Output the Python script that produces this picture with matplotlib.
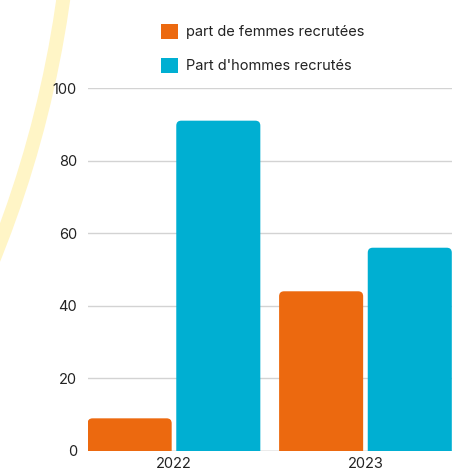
import matplotlib
matplotlib.use("Agg")
import matplotlib.pyplot as plt
from matplotlib.patches import FancyBboxPatch, Rectangle, Circle
import numpy as np

years = ["2022", "2023"]
series_names = ["part de femmes recrutées", "Part d'hommes recrutés"]
femmes = [9, 44]
hommes = [91, 56]
yticks = [0, 20, 40, 60, 80, 100]

c_orange = "#EC690F"
c_blue = "#00AFD2"
text_col = "#222222"

plt.rcParams['font.family'] = ['Inter', 'DejaVu Sans']

W, H = 461, 472
fig = plt.figure(figsize=(W / 100, H / 100), dpi=100)

# decorative background arc (in pixel coordinates)
bg = fig.add_axes([0, 0, 1, 1], zorder=0)
bg.set_xlim(0, W)
bg.set_ylim(H, 0)
bg.axis("off")
arc = Circle((-1028, -154), 1102, fill=False, edgecolor="#FFF5C6", linewidth=10)
bg.add_patch(arc)

# main axes
L, R, T, B = 88, 452, 88, 451
ax = fig.add_axes([L / W, 1 - B / H, (R - L) / W, (B - T) / H], zorder=1)
ax.patch.set_alpha(0)
xlim = (-0.449, 1.452)
ylim = (0, 100)
ax.set_xlim(*xlim)
ax.set_ylim(*ylim)

x = np.arange(len(years))
bw = 0.439
off = 0.2315
bars1 = ax.bar(x - off, femmes, bw, color=c_orange)
bars2 = ax.bar(x + off, hommes, bw, color=c_blue)

px_x = (R - L) / (xlim[1] - xlim[0])
px_y = (B - T) / (ylim[1] - ylim[0])
asp = px_x / px_y
r = 5 / px_x
for bars in (bars1, bars2):
    for rect in bars:
        bx, by = rect.get_x(), rect.get_y()
        bwid, bh = rect.get_width(), rect.get_height()
        fc = rect.get_facecolor()
        rect.set_visible(False)
        ext = 3
        p = FancyBboxPatch((bx, by - ext), bwid, bh + ext,
                           boxstyle=f"round,pad=0,rounding_size={r}",
                           mutation_aspect=asp, facecolor=fc, edgecolor="none",
                           zorder=3)
        ax.add_patch(p)

for v in yticks[1:]:
    ax.axhline(v, color="#D3D3D3", lw=1.0, zorder=1)
ax.axhline(0, color="#9A9A9A", lw=1.0, zorder=1)

for s in ax.spines.values():
    s.set_visible(False)
ax.set_yticks(yticks)
ax.set_yticklabels([str(v) for v in yticks])
ax.set_xticks(x)
ax.set_xticklabels(years)
ax.tick_params(axis="y", length=0, pad=8, labelsize=10.5, labelcolor=text_col)
ax.tick_params(axis="x", length=0, pad=4, labelsize=10.5, labelcolor=text_col)

handles = [Rectangle((0, 0), 1, 1, facecolor=c_orange, edgecolor="none"),
           Rectangle((0, 0), 1, 1, facecolor=c_blue, edgecolor="none")]
fs = 10.5
fpx = fs * 100 / 72
fig.legend(handles, series_names, loc="upper left",
           bbox_to_anchor=(161 / W, 1 - 24 / H), frameon=False,
           fontsize=fs, labelcolor=text_col,
           handlelength=17 / fpx, handleheight=17 / fpx,
           handletextpad=8 / fpx, labelspacing=1.3, borderpad=0,
           borderaxespad=0)

fig.savefig("out.png", dpi=100)
